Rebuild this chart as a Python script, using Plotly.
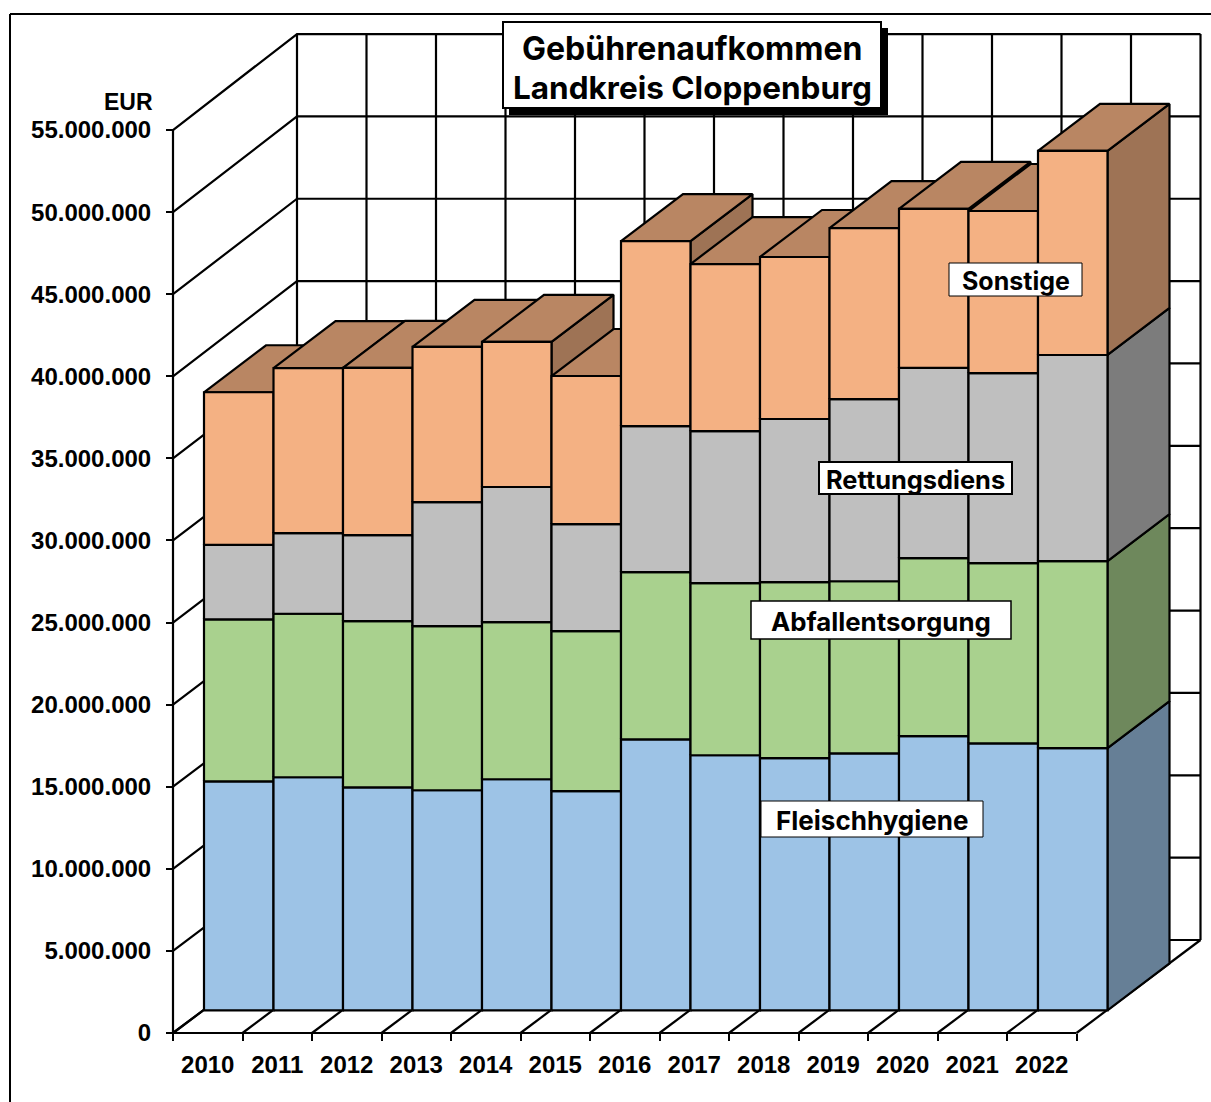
import plotly.graph_objects as go

years = [2010, 2011, 2012, 2013, 2014, 2015, 2016, 2017, 2018, 2019, 2020, 2021, 2022]
fleischhygiene = [13950000, 14200000, 13590000, 13410000, 14080000, 13350000, 16510000, 15540000, 15360000, 15660000, 16700000, 16270000, 15970000]
abfallentsorgung = [9870000, 9960000, 10120000, 9990000, 9570000, 9750000, 10180000, 10480000, 10730000, 10480000, 10850000, 10970000, 11400000]
rettungsdienst = [4540000, 4910000, 5240000, 7560000, 8230000, 6520000, 8900000, 9260000, 9930000, 11090000, 11580000, 11580000, 12550000]
sonstige = [9290000, 10050000, 10180000, 9450000, 8840000, 9020000, 11270000, 10180000, 9870000, 10420000, 9690000, 9870000, 12430000]
series = [fleischhygiene, abfallentsorgung, rettungsdienst, sonstige]
front_colors = ["#9DC3E6", "#A9D18E", "#BFBFBF", "#F4B183"]
side_colors = ["#667F96", "#6E885C", "#7C7C7C", "#9E7355"]
top_color = "#B98663"
y_ticks = list(range(0, 55000001, 5000000))

# Page geometry, pixels
W, H = 1211, 1102
AX_X, AX_Y = 173, 1033          # where the front axes meet
PL, PR, PT, PB = 160, 1208, 20, 1046   # plot area, a little larger than the box
PX_PER_CAT = 69.5
PX_PER_EUR = 16.418e-6
DX = 124 / PX_PER_CAT           # depth of the box in category units
DY = 93 / PX_PER_EUR            # depth of the box in EUR
WALL = 1.0033                   # back wall's slight scale difference
BAR_X0 = 31 / PX_PER_CAT
BAR_Y0 = 22.6 / PX_PER_EUR
BAR_DX = 62 / PX_PER_CAT
BAR_DY = 47 / PX_PER_EUR
FONT_TICK = "Liberation Sans"
FONT_BOX = "Inter"
LW = 2.2


def fx(x):
    return (x - PL) / (PR - PL)


def fy(y):
    return (PB - y) / (PB - PT)


fig = go.Figure()


def line(xs, ys):
    fig.add_trace(go.Scatter(x=xs, y=ys, mode="lines", line=dict(color="black", width=LW),
                             hoverinfo="skip", showlegend=False, cliponaxis=False))


def poly(xs, ys, color):
    fig.add_trace(go.Scatter(x=xs + xs[:1], y=ys + ys[:1], mode="lines", fill="toself", fillcolor=color,
                             line=dict(color="black", width=LW), hoverinfo="skip",
                             showlegend=False, cliponaxis=False))


n = len(years)
top_v = y_ticks[-1]
# back wall and left wall
for v in y_ticks:
    bv = v * WALL + DY
    line([0, DX, DX + n], [v, bv, bv])
for i in range(n + 1):
    line([DX + i, DX + i], [DY, top_v * WALL + DY])
# floor
line([0, 0], [0, top_v])
line([0, n], [0, 0])
for i in range(n + 1):
    line([i, i + DX], [0, DY])

# bars, painted left to right
for i in range(n):
    xl, xr = i + BAR_X0, i + 1 + BAR_X0
    base = BAR_Y0
    segs = []
    for k, s in enumerate(series):
        segs.append((base, base + s[i], k))
        base += s[i]
    for b, t, k in segs:
        poly([xr, xr + BAR_DX, xr + BAR_DX, xr], [b, b + BAR_DY, t + BAR_DY, t], side_colors[k])
    t = segs[-1][1]
    poly([xl, xl + BAR_DX, xr + BAR_DX, xr], [t, t + BAR_DY, t + BAR_DY, t], top_color)
    for b, t, k in segs:
        poly([xl, xr, xr, xl], [b, b, t, t], front_colors[k])

shapes = [
    # outer frame (left and top edges)
    dict(type="line", xref="paper", yref="paper", x0=fx(10), x1=fx(10), y0=fy(1102), y1=fy(14),
         line=dict(color="black", width=2)),
    dict(type="line", xref="paper", yref="paper", x0=fx(10), x1=fx(1211), y0=fy(14), y1=fy(14),
         line=dict(color="black", width=2)),
    # title shadow and box
    dict(type="rect", xref="paper", yref="paper", x0=fx(509), x1=fx(888), y0=fy(115), y1=fy(28),
         fillcolor="black", line=dict(width=0)),
    dict(type="rect", xref="paper", yref="paper", x0=fx(503), x1=fx(881), y0=fy(108), y1=fy(22),
         fillcolor="white", line=dict(color="black", width=2)),
]
boxes = [
    ("Sonstige", 949, 1082, 263, 296, 1015.5, 280.5, 25, 1),
    ("Rettungsdiens", 819, 1012, 462, 494, 915.5, 479.5, 25.4, 2),
    ("Abfallentsorgung", 751, 1011, 601, 639, 881, 621, 25.8, 1.5),
    ("Fleischhygiene", 761, 983, 801, 837, 872, 820.5, 26, 1),
]
annotations = []
for text, a, b, c, d, cx, cy, size, bw in boxes:
    shapes.append(dict(type="rect", xref="paper", yref="paper", x0=fx(a), x1=fx(b), y0=fy(d), y1=fy(c),
                       fillcolor="white", line=dict(color="black", width=bw)))
    annotations.append(dict(text=f"<b>{text}</b>", xref="paper", yref="paper", x=fx(cx), y=fy(cy),
                            xanchor="center", yanchor="middle", showarrow=False,
                            font=dict(family=FONT_BOX, size=size, color="black")))
annotations.append(dict(text="<b>Gebührenaufkommen</b>", xref="paper", yref="paper", x=fx(692), y=fy(48),
                        xanchor="center", yanchor="middle", showarrow=False,
                        font=dict(family=FONT_BOX, size=32, color="black")))
annotations.append(dict(text="<b>Landkreis Cloppenburg</b>", xref="paper", yref="paper", x=fx(692), y=fy(87.5),
                        xanchor="center", yanchor="middle", showarrow=False,
                        font=dict(family=FONT_BOX, size=31.5, color="black")))
annotations.append(dict(text="<b>EUR</b>", xref="paper", yref="paper", x=fx(155), y=fy(102),
                        xanchor="right", yanchor="middle", showarrow=False,
                        font=dict(family=FONT_TICK, size=23, color="black")))

fig.update_layout(
    width=W, height=H, autosize=False,
    margin=dict(l=PL, r=W - PR, t=PT, b=H - PB, pad=0),
    paper_bgcolor="white", plot_bgcolor="rgba(0,0,0,0)",
    separators=",.",
    shapes=shapes, annotations=annotations, showlegend=False,
    xaxis=dict(range=[(PL - AX_X) / PX_PER_CAT, (PR - AX_X) / PX_PER_CAT],
               showgrid=False, zeroline=False, showline=False,
               anchor="free", position=fy(AX_Y),
               tickmode="array", tickvals=[i + 0.5 for i in range(n)], ticktext=[str(y) for y in years],
               ticks="", ticklabelstandoff=15,
               tickfont=dict(family=FONT_TICK, size=24, color="black", weight="bold"),
               minor=dict(tickmode="array", tickvals=list(range(n + 1)), ticks="outside", ticklen=7,
                          tickwidth=2, tickcolor="black", showgrid=False)),
    yaxis=dict(range=[(AX_Y - PB) / PX_PER_EUR, (AX_Y - PT) / PX_PER_EUR],
               showgrid=False, zeroline=False, showline=False,
               anchor="free", position=fx(AX_X),
               tickmode="array", tickvals=y_ticks, tickformat=",d",
               ticks="outside", ticklen=7, tickwidth=2, tickcolor="black", ticklabelstandoff=10,
               tickfont=dict(family=FONT_TICK, size=24, color="black", weight="bold")),
)

fig.write_html("out.html", post_script="document.body.style.margin='0';", config=dict(displayModeBar=False))
